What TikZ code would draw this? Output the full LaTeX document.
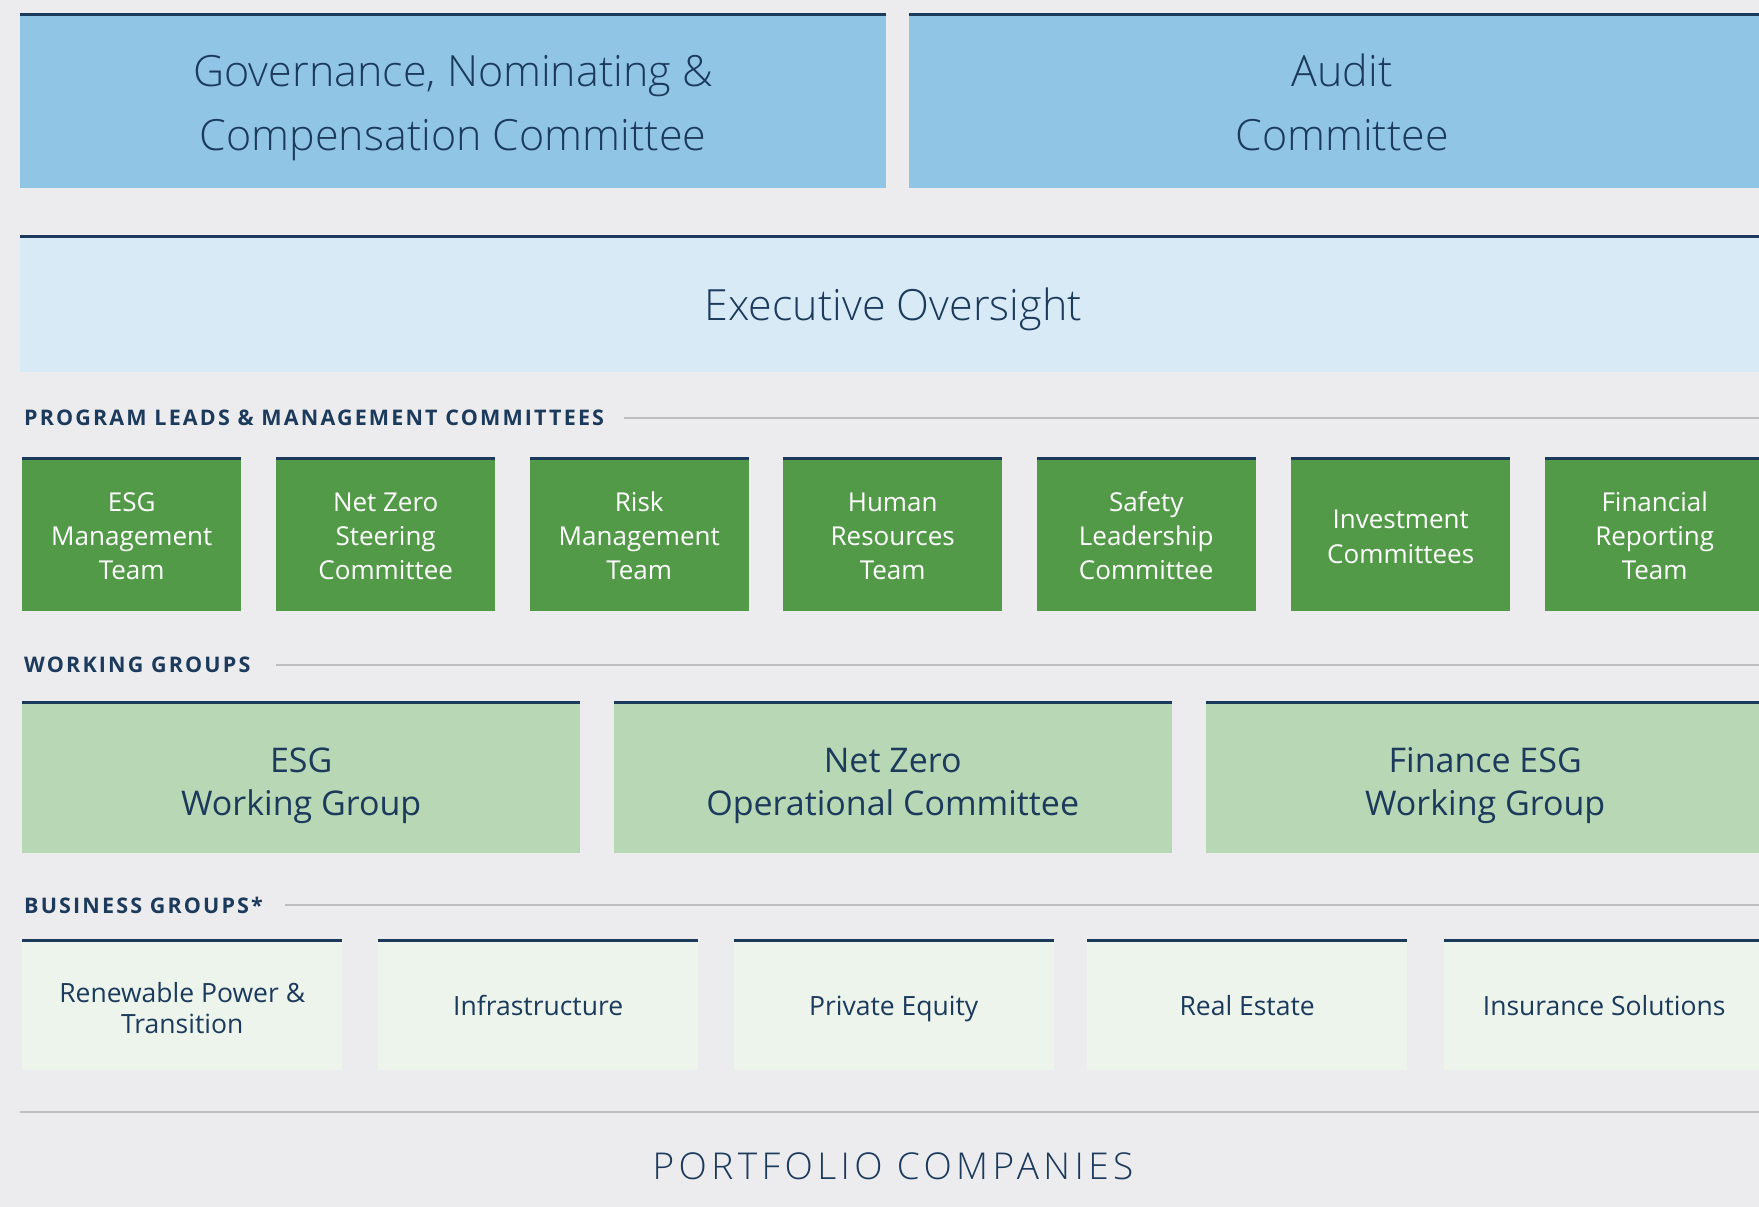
\documentclass[tikz,border=0pt]{standalone}
\usepackage{fontspec}
\setmainfont{Open Sans}
\IfFontExistsTF{Open Sans Light}
  {\newfontfamily\lightfont{Open Sans Light}
   \newfontfamily\widefont[LetterSpace=12]{Open Sans Light}}
  {\newfontfamily\lightfont{Open Sans}
   \newfontfamily\widefont[LetterSpace=12]{Open Sans}}
\newfontfamily\headfont[LetterSpace=10]{Open Sans}
\usetikzlibrary{positioning}
\usetikzlibrary{calc}

\definecolor{navy}{HTML}{1B3A5C}
\definecolor{pagegray}{HTML}{ECECEE}
\definecolor{boardblue}{HTML}{91C5E5}
\definecolor{execblue}{HTML}{D8EAF6}
\definecolor{leadgreen}{HTML}{529A48}
\definecolor{workgreen}{HTML}{B8D7B4}
\definecolor{bizgreen}{HTML}{EDF4EC}
\definecolor{rulegray}{HTML}{BEBEC0}

\tikzset{
  topbar/.style={append after command={([yshift=-1.5pt]\tikzlastnode.north west) edge[draw=navy, line width=3pt] ([yshift=-1.5pt]\tikzlastnode.north east)}},
  capcenter/.style={execute at begin node={\rule{0pt}{1.1em}}, execute at end node={\rule[-0.3em]{0pt}{0pt}}},
  % room above the last line for multi-line texts
  textdrop/.style={execute at begin node={\rule{0pt}{\dimexpr#1+1.3em\relax}}},
  box/.style={rectangle, anchor=north west, inner sep=4pt, align=center, text=navy, topbar, capcenter},
  board/.style={box, fill=boardblue, minimum width=866pt, minimum height=175pt, font=\fontsize{43}{64}\lightfont, textdrop=57pt},
  exec/.style={box, fill=execblue, minimum width=1746pt, minimum height=137pt, font=\fontsize{43}{64}\lightfont},
  lead/.style={box, fill=leadgreen, text=white, minimum width=219pt, minimum height=154pt, font=\fontsize{26}{34.3}\selectfont},
  work/.style={box, fill=workgreen, minimum width=558pt, minimum height=152pt, font=\fontsize{34}{43}\selectfont, textdrop=43pt},
  biz/.style={box, fill=bizgreen, minimum width=320pt, minimum height=131pt, font=\fontsize{26.5}{31.5}\selectfont},
  heading/.style={anchor=west, inner sep=0pt, text=navy, font=\fontsize{21.5}{25}\headfont\bfseries},
  rule/.style={draw=rulegray, line width=2pt}
}

\begin{document}
\begin{tikzpicture}[x=1pt, y=-1pt]
\useasboundingbox (0,0) rectangle (1759,1207);
\fill[pagegray] (0,0) rectangle (1759,1207);
\clip (0,0) rectangle (1759,1207);

% board committees
\node[board] (gov) at (20,13) {Governance, Nominating \&\\Compensation Committee};
\node[board] (audit) at (909,13) {Audit\\Committee};

\node[exec] (exec) at (20,235) {Executive Oversight};

% program leads
\node[heading] (plh) at (24,418) {PROGRAM LEADS \& MANAGEMENT COMMITTEES};
\coordinate (plhend) at (1759,418);
\draw[rule] ([xshift=20pt]plh.east) -- (plhend);

\node[lead, textdrop=65.5pt] (esgmt) at (22,457) {ESG\\Management\\Team};
\node[lead, textdrop=65.5pt] (nzsc) at (276,457) {Net Zero\\Steering\\Committee};
\node[lead, textdrop=65.5pt] (rmt) at (529.5,457) {Risk\\Management\\Team};
\node[lead, textdrop=65.5pt] (hrt) at (783,457) {Human\\Resources\\Team};
\node[lead, textdrop=65.5pt] (slc) at (1036.5,457) {Safety\\Leadership\\Committee};
\node[lead, textdrop=32pt] (invc) at (1291,457) {Investment\\Committees};
\node[lead, textdrop=65.5pt] (frt) at (1545,457) {Financial\\Reporting\\Team};

% working groups
\node[heading] (wgh) at (24,665) {WORKING GROUPS};
\coordinate (wghend) at (1759,665);
\draw[rule] ([xshift=25pt]wgh.east) -- (wghend);

\node[work] (esgwg) at (22,701) {ESG\\Working Group};
\node[work] (nzoc) at (613.5,701) {Net Zero\\Operational Committee};
\node[work] (finwg) at (1206,701) {Finance ESG\\Working Group};

% business groups
\node[heading] (bgh) at (24,905) {BUSINESS GROUPS*};
\coordinate (bghend) at (1759,905);
\draw[rule] ([xshift=22pt]bgh.east) -- (bghend);

\node[biz, textdrop=31.5pt] (power) at (22,939) {Renewable Power \&\\Transition};
\node[biz] (infra) at (378,939) {Infrastructure};
\node[biz] (pe) at (733.5,939) {Private Equity};
\node[biz] (re) at (1087,939) {Real Estate};
\node[biz] (ins) at (1444,939) {Insurance Solutions};

% portfolio
\coordinate (pcstart) at (20,1112);
\coordinate (pcend) at (1759,1112);
\draw[rule] (pcstart) -- (pcend);
\node[text=navy, font=\fontsize{37}{40}\widefont] (pc) at (893,1166) {PORTFOLIO COMPANIES};
\end{tikzpicture}
\end{document}
